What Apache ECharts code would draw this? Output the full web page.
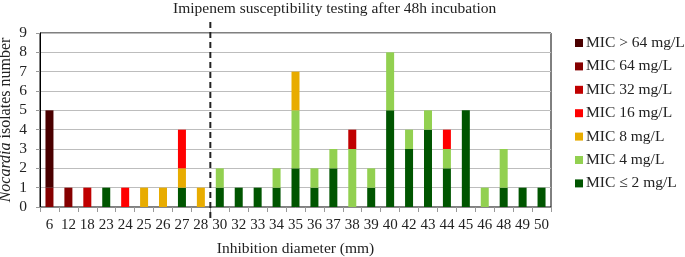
<!DOCTYPE html>
<html>
<head>
<meta charset="utf-8">
<script src="https://cdn.jsdelivr.net/npm/echarts@6/dist/echarts.min.js"></script>
<style>
  html, body { margin: 0; padding: 0; background: #fff; }
  #figure { width: 685px; height: 257px; }
</style>
</head>
<body>
<div id="figure"></div>
<script>
let diameters = ['6', '12', '18', '23', '24', '25', '26', '27', '28', '30', '32', '33', '34', '35',
    '36', '37', '38', '39', '40', '42', '43', '44', '45', '46', '48', '49', '50'];
// counts per diameter, one array per MIC level (bottom of the stack first)
let mic_le2 = [0, 0, 0, 1, 0, 0, 0, 1, 0, 1, 1, 1, 1, 2, 1, 2, 0, 1, 5, 3, 4, 2, 5, 0, 1, 1, 1];
let mic_4   = [0, 0, 0, 0, 0, 0, 0, 0, 0, 1, 0, 0, 1, 3, 1, 1, 3, 1, 3, 1, 1, 1, 0, 1, 2, 0, 0];
let mic_8   = [0, 0, 0, 0, 0, 1, 1, 1, 1, 0, 0, 0, 0, 2, 0, 0, 0, 0, 0, 0, 0, 0, 0, 0, 0, 0, 0];
let mic_16  = [0, 0, 0, 0, 1, 0, 0, 2, 0, 0, 0, 0, 0, 0, 0, 0, 0, 0, 0, 0, 0, 1, 0, 0, 0, 0, 0];
let mic_32  = [0, 0, 1, 0, 0, 0, 0, 0, 0, 0, 0, 0, 0, 0, 0, 0, 1, 0, 0, 0, 0, 0, 0, 0, 0, 0, 0];
let mic_64  = [1, 1, 0, 0, 0, 0, 0, 0, 0, 0, 0, 0, 0, 0, 0, 0, 0, 0, 0, 0, 0, 0, 0, 0, 0, 0, 0];
let mic_gt64 = [4, 0, 0, 0, 0, 0, 0, 0, 0, 0, 0, 0, 0, 0, 0, 0, 0, 0, 0, 0, 0, 0, 0, 0, 0, 0, 0];

let levels = [
    {name: 'MIC \u2264 2 mg/L', data: mic_le2, color: '#005500'},
    {name: 'MIC 4 mg/L', data: mic_4, color: '#92d050'},
    {name: 'MIC 8 mg/L', data: mic_8, color: '#e8ac00'},
    {name: 'MIC 16 mg/L', data: mic_16, color: '#ff0000'},
    {name: 'MIC 32 mg/L', data: mic_32, color: '#c00000'},
    {name: 'MIC 64 mg/L', data: mic_64, color: '#850000'},
    {name: 'MIC > 64 mg/L', data: mic_gt64, color: '#4a0000'}
];

let serif = '"Liberation Serif", "Times New Roman", serif';

let series = [];
for (let i = 0; i < levels.length; i++) {
    series.push({
        name: levels[i].name,
        type: 'bar',
        stack: 'mic',
        barWidth: 8,
        itemStyle: {color: levels[i].color},
        data: levels[i].data.map(function (v) { return v === 0 ? null : v; })
    });
}

let myChart = echarts.init(document.getElementById('figure'));
myChart.setOption({
    animation: false,
    textStyle: {fontFamily: serif},
    title: {
        text: 'Imipenem susceptibility testing after 48h incubation',
        left: 168,
        top: -4,
        textStyle: {fontFamily: serif, fontSize: 15.5, fontWeight: 'normal', color: '#222'}
    },
    legend: {
        orient: 'vertical',
        left: 570,
        top: 30,
        itemWidth: 8,
        itemHeight: 8,
        itemGap: 7.4,
        icon: 'rect',
        data: levels.map(function (l) { return l.name; }).reverse(),
        textStyle: {fontFamily: serif, fontSize: 15.5, lineHeight: 16, color: '#222', padding: [0, 0, 0, -2]}
    },
    grid: {
        left: 40, right: 134, top: 33, bottom: 50,
        outerBoundsMode: 'none',
        containLabel: false,
        show: true, borderColor: '#000', borderWidth: 1
    },
    xAxis: {
        type: 'category',
        data: diameters,
        name: 'Inhibition diameter (mm)',
        nameLocation: 'middle',
        nameGap: 34,
        nameMoveOverlap: false,
        nameTextStyle: {fontFamily: serif, fontSize: 15.5, color: '#222'},
        axisLine: {lineStyle: {color: '#888'}},
        axisTick: {show: true, length: 5, lineStyle: {color: '#999'}},
        axisLabel: {fontFamily: serif, fontSize: 15, color: '#222', margin: 11, interval: 0}
    },
    yAxis: {
        type: 'value',
        min: 0, max: 9, interval: 1,
        name: '{i|Nocardia} isolates number',
        nameLocation: 'middle',
        nameGap: 26,
        nameMoveOverlap: false,
        nameTextStyle: {
            fontFamily: serif, fontSize: 16, color: '#222',
            rich: {i: {fontFamily: serif, fontSize: 16, fontStyle: 'italic', color: '#222'}}
        },
        axisLine: {show: true, lineStyle: {color: '#000'}},
        axisTick: {show: true, length: 4, lineStyle: {color: '#999'}},
        axisLabel: {fontFamily: serif, fontSize: 15.5, color: '#222', margin: 13},
        splitLine: {lineStyle: {color: '#bdbdbd'}}
    },
    series: series
});

// dashed separator between 28 and 30 mm
let x1 = myChart.convertToPixel({xAxisIndex: 0}, '28');
let x2 = myChart.convertToPixel({xAxisIndex: 0}, '30');
let xm = (x1 + x2) / 2;
myChart.setOption({
    graphic: [{
        type: 'line',
        shape: {x1: xm, y1: 22, x2: xm, y2: 221},
        style: {stroke: '#222', lineWidth: 2, lineDash: [6, 4]},
        z: 100
    }]
});
</script>
</body>
</html>
